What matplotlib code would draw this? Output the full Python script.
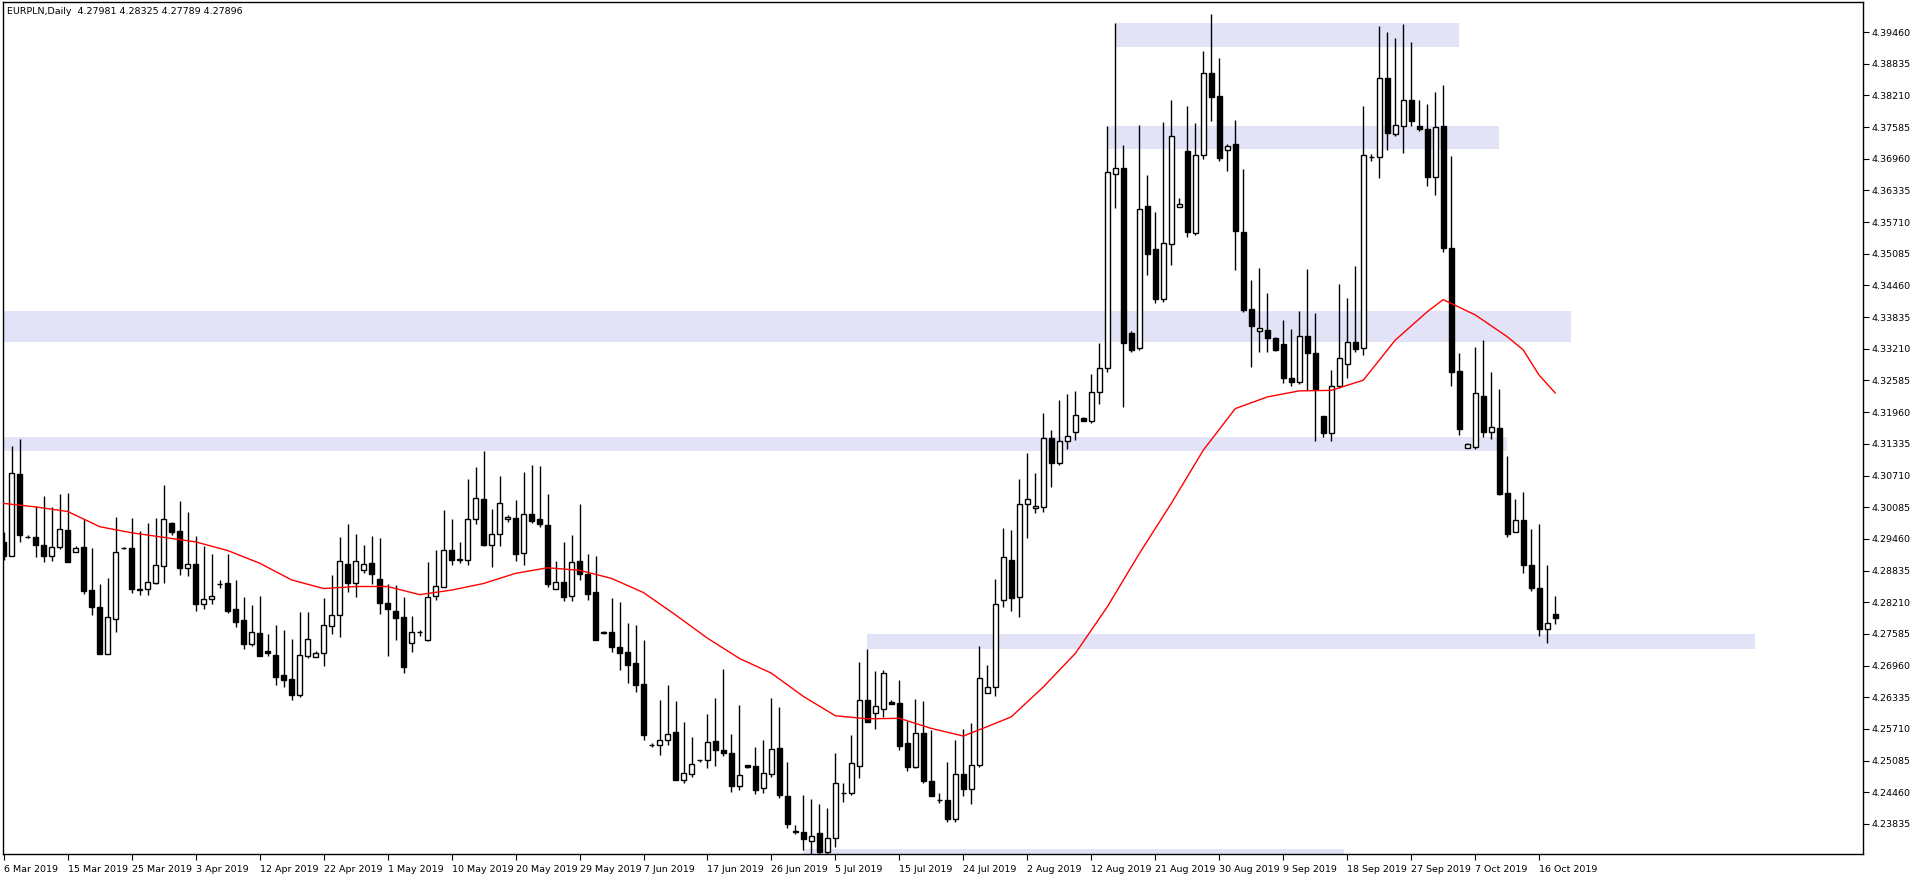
import numpy as np
import matplotlib
matplotlib.use("Agg")
import matplotlib.pyplot as plt

# ---------------------------------------------------------------
# EURPLN daily candles
# ---------------------------------------------------------------
opens = [4.2940, 4.2913, 4.3074, 4.2950, 4.2949, 4.2933, 4.2913, 4.2929, 4.2964, 4.2921,
         4.2930, 4.2845, 4.2811, 4.2718, 4.2787, 4.2928, 4.2928, 4.2848, 4.2848, 4.2859,
         4.2893, 4.2977, 4.2961, 4.2889, 4.2896, 4.2817, 4.2827, 4.2857, 4.2858, 4.2807,
         4.2785, 4.2738, 4.2761, 4.2725, 4.2716, 4.2677, 4.2669, 4.2638, 4.2715, 4.2713,
         4.2720, 4.2775, 4.2795, 4.2896, 4.2858, 4.2884, 4.2898, 4.2867, 4.2819, 4.2804,
         4.2792, 4.2740, 4.2763, 4.2746, 4.2834, 4.2852, 4.2924, 4.2905, 4.2905, 4.2986,
         4.3024, 4.2933, 4.2955, 4.2986, 4.2988, 4.2919, 4.2996, 4.2985, 4.2973, 4.2848,
         4.2860, 4.2834, 4.2902, 4.2877, 4.2842, 4.2763, 4.2762, 4.2732, 4.2723, 4.2701,
         4.2659, 4.2540, 4.2540, 4.2550, 4.2565, 4.2471, 4.2483, 4.2509, 4.2509, 4.2547,
         4.2529, 4.2523, 4.2458, 4.2499, 4.2497, 4.2454, 4.2483, 4.2533, 4.2439, 4.2369,
         4.2367, 4.2349, 4.2365, 4.2329, 4.2355, 4.2444, 4.2444, 4.2497, 4.2628, 4.2602,
         4.2610, 4.2625, 4.2623, 4.2543, 4.2496, 4.2564, 4.2469, 4.2431, 4.2430, 4.2393,
         4.2483, 4.2453, 4.2500, 4.2641, 4.2654, 4.2825, 4.2905, 4.2832, 4.3014, 4.3006,
         4.3009, 4.3146, 4.3096, 4.3140, 4.3156, 4.3184, 4.3178, 4.3235, 4.3283, 4.3665,
         4.3677, 4.3352, 4.3323, 4.3602, 4.3518, 4.3419, 4.3528, 4.3601, 4.3712, 4.3550,
         4.3704, 4.3866, 4.3819, 4.3714, 4.3725, 4.3551, 4.3399, 4.3356, 4.3359, 4.3342,
         4.3330, 4.3264, 4.3256, 4.3346, 4.3312, 4.3188, 4.3155, 4.3248, 4.3292, 4.3335,
         4.3323, 4.3700, 4.3699, 4.3855, 4.3744, 4.3761, 4.3812, 4.3760, 4.3754, 4.3660,
         4.3760, 4.3519, 4.3277, 4.3126, 4.3127, 4.3227, 4.3157, 4.3164, 4.3036, 4.2959,
         4.2984, 4.2894, 4.2850, 4.2768, 4.27981]
highs = [4.2960, 4.3129, 4.3143, 4.2953, 4.3011, 4.3031, 4.3008, 4.3035, 4.3036, 4.2932,
         4.2985, 4.2928, 4.2857, 4.2869, 4.2990, 4.2929, 4.2987, 4.2961, 4.2977, 4.2987,
         4.3052, 4.2979, 4.3021, 4.2999, 4.2952, 4.2932, 4.2917, 4.2865, 4.2916, 4.2865,
         4.2831, 4.2815, 4.2833, 4.2758, 4.2776, 4.2766, 4.2748, 4.2802, 4.2802, 4.2724,
         4.2829, 4.2874, 4.2949, 4.2975, 4.2955, 4.2934, 4.2952, 4.2948, 4.2856, 4.2855,
         4.2832, 4.2794, 4.2766, 4.2900, 4.2924, 4.3003, 4.2985, 4.2940, 4.3064, 4.3088,
         4.3119, 4.3005, 4.3070, 4.2993, 4.3023, 4.3078, 4.3092, 4.3090, 4.3035, 4.2902,
         4.2939, 4.2953, 4.3015, 4.2917, 4.2912, 4.2764, 4.2829, 4.2821, 4.2780, 4.2776,
         4.2746, 4.2544, 4.2628, 4.2658, 4.2626, 4.2584, 4.2555, 4.2510, 4.2600, 4.2632,
         4.2689, 4.2561, 4.2618, 4.2499, 4.2535, 4.2549, 4.2632, 4.2614, 4.2505, 4.2381,
         4.2440, 4.2432, 4.2423, 4.2415, 4.2523, 4.2465, 4.2559, 4.2704, 4.2729, 4.2685,
         4.2687, 4.2628, 4.2668, 4.2587, 4.2631, 4.2626, 4.2569, 4.2444, 4.2506, 4.2550,
         4.2571, 4.2582, 4.2735, 4.2697, 4.2866, 4.2968, 4.2963, 4.3065, 4.3115, 4.3075,
         4.3194, 4.3160, 4.3220, 4.3231, 4.3238, 4.3187, 4.3271, 4.3333, 4.3760, 4.3964,
         4.3723, 4.3356, 4.3762, 4.3664, 4.3591, 4.3768, 4.3812, 4.3618, 4.3800, 4.3766,
         4.3908, 4.3982, 4.3894, 4.3725, 4.3772, 4.3676, 4.3456, 4.3480, 4.3431, 4.3345,
         4.3377, 4.3360, 4.3395, 4.3478, 4.3392, 4.3188, 4.3279, 4.3449, 4.3421, 4.3484,
         4.3800, 4.3706, 4.3957, 4.3946, 4.3934, 4.3962, 4.3926, 4.3812, 4.3803, 4.3827,
         4.3841, 4.3701, 4.3312, 4.3136, 4.3325, 4.3338, 4.3275, 4.3241, 4.3109, 4.3024,
         4.3038, 4.2965, 4.2976, 4.2894, 4.28325]
lows = [4.2905, 4.2913, 4.2940, 4.2947, 4.2911, 4.2901, 4.2903, 4.2927, 4.2901, 4.2921,
        4.2838, 4.2796, 4.2718, 4.2718, 4.2763, 4.2927, 4.2840, 4.2836, 4.2836, 4.2857,
        4.2859, 4.2954, 4.2875, 4.2873, 4.2804, 4.2808, 4.2818, 4.2849, 4.2800, 4.2773,
        4.2729, 4.2735, 4.2715, 4.2715, 4.2657, 4.2654, 4.2629, 4.2634, 4.2711, 4.2713,
        4.2696, 4.2758, 4.2753, 4.2842, 4.2832, 4.2878, 4.2856, 4.2797, 4.2715, 4.2746,
        4.2682, 4.2723, 4.2755, 4.2745, 4.2825, 4.2852, 4.2895, 4.2899, 4.2894, 4.2975,
        4.2931, 4.2890, 4.2931, 4.2979, 4.2903, 4.2895, 4.2978, 4.2970, 4.2852, 4.2848,
        4.2824, 4.2824, 4.2865, 4.2826, 4.2747, 4.2759, 4.2723, 4.2688, 4.2661, 4.2644,
        4.2549, 4.2536, 4.2519, 4.2539, 4.2471, 4.2465, 4.2477, 4.2506, 4.2494, 4.2498,
        4.2517, 4.2447, 4.2451, 4.2494, 4.2443, 4.2445, 4.2477, 4.2435, 4.2375, 4.2363,
        4.2333, 4.2325, 4.2320, 4.2323, 4.2339, 4.2427, 4.2441, 4.2475, 4.2585, 4.2571,
        4.2595, 4.2621, 4.2529, 4.2489, 4.2493, 4.2465, 4.2439, 4.2424, 4.2388, 4.2388,
        4.2439, 4.2423, 4.2496, 4.2641, 4.2636, 4.2811, 4.2804, 4.2791, 4.2948, 4.2997,
        4.2999, 4.3049, 4.3092, 4.3124, 4.3141, 4.3178, 4.3175, 4.3213, 4.3275, 4.3599,
        4.3206, 4.3315, 4.3318, 4.3466, 4.3412, 4.3414, 4.3486, 4.3601, 4.3542, 4.3546,
        4.3696, 4.3771, 4.3692, 4.3672, 4.3477, 4.3394, 4.3285, 4.3315, 4.3315, 4.3316,
        4.3254, 4.3248, 4.3252, 4.3239, 4.3139, 4.3147, 4.3139, 4.3243, 4.3264, 4.3315,
        4.3308, 4.3691, 4.3658, 4.3713, 4.3741, 4.3708, 4.3760, 4.3751, 4.3643, 4.3625,
        4.3511, 4.3247, 4.3150, 4.3126, 4.3123, 4.3147, 4.3144, 4.3032, 4.2950, 4.2959,
        4.2879, 4.2843, 4.2755, 4.2741, 4.27789]
closes = [4.2913, 4.3075, 4.2954, 4.2949, 4.2933, 4.2913, 4.2929, 4.2965, 4.2901, 4.2928,
          4.2844, 4.2812, 4.2719, 4.2791, 4.2921, 4.2928, 4.2848, 4.2846, 4.2860, 4.2894,
          4.2986, 4.2960, 4.2889, 4.2896, 4.2817, 4.2827, 4.2834, 4.2857, 4.2804, 4.2782,
          4.2738, 4.2763, 4.2715, 4.2720, 4.2674, 4.2668, 4.2638, 4.2716, 4.2748, 4.2720,
          4.2777, 4.2795, 4.2902, 4.2859, 4.2902, 4.2896, 4.2876, 4.2820, 4.2808, 4.2790,
          4.2694, 4.2763, 4.2762, 4.2831, 4.2854, 4.2924, 4.2905, 4.2906, 4.2986, 4.3026,
          4.2933, 4.2955, 4.3016, 4.2990, 4.2917, 4.2996, 4.2981, 4.2975, 4.2856, 4.2860,
          4.2832, 4.2900, 4.2876, 4.2838, 4.2747, 4.2761, 4.2733, 4.2721, 4.2698, 4.2658,
          4.2559, 4.2540, 4.2549, 4.2562, 4.2471, 4.2485, 4.2501, 4.2509, 4.2546, 4.2530,
          4.2523, 4.2459, 4.2481, 4.2496, 4.2451, 4.2485, 4.2531, 4.2440, 4.2383, 4.2368,
          4.2354, 4.2360, 4.2329, 4.2355, 4.2464, 4.2444, 4.2503, 4.2628, 4.2585, 4.2617,
          4.2681, 4.2621, 4.2538, 4.2496, 4.2564, 4.2468, 4.2439, 4.2431, 4.2393, 4.2483,
          4.2453, 4.2499, 4.2672, 4.2654, 4.2818, 4.2911, 4.2830, 4.3014, 4.3024, 4.3010,
          4.3146, 4.3096, 4.3140, 4.3148, 4.3190, 4.3178, 4.3235, 4.3284, 4.3669, 4.3677,
          4.3333, 4.3318, 4.3596, 4.3508, 4.3419, 4.3529, 4.3740, 4.3607, 4.3552, 4.3704,
          4.3866, 4.3818, 4.3698, 4.3722, 4.3554, 4.3397, 4.3366, 4.3362, 4.3343, 4.3318,
          4.3264, 4.3256, 4.3346, 4.3312, 4.3241, 4.3155, 4.3248, 4.3302, 4.3335, 4.3321,
          4.3703, 4.3700, 4.3855, 4.3747, 4.3762, 4.3812, 4.3771, 4.3754, 4.3660, 4.3758,
          4.3519, 4.3275, 4.3163, 4.3133, 4.3233, 4.3157, 4.3166, 4.3034, 4.2955, 4.2984,
          4.2895, 4.2850, 4.2769, 4.2780, 4.27896]

# moving average (red line), sampled off the chart at bar indices
ma_idx = [0, 4, 8, 12, 16, 20, 24, 28, 32, 36, 40, 44, 48, 52, 56, 60, 64, 68, 72, 76,
          80, 84, 88, 92, 96, 100, 104, 108, 112, 116, 120, 124, 126, 130, 134, 138,
          142, 146, 150, 154, 158, 162, 166, 170, 174, 178, 180, 184, 188, 190, 192, 194]
ma_val = [4.3016, 4.3009, 4.3000, 4.2970, 4.2958, 4.2949, 4.2940, 4.2923, 4.2898, 4.2865,
          4.2848, 4.2852, 4.2852, 4.2836, 4.2845, 4.2858, 4.2878, 4.2889, 4.2884, 4.2868,
          4.2840, 4.2796, 4.2750, 4.2710, 4.2681, 4.2635, 4.2597, 4.2591, 4.2592, 4.2572,
          4.2557, 4.2582, 4.2595, 4.2654, 4.2720, 4.2812, 4.2917, 4.3016, 4.3121, 4.3203,
          4.3226, 4.3238, 4.3239, 4.3259, 4.3338, 4.3394, 4.3418, 4.3388, 4.3345, 4.3319,
          4.3269, 4.3234]

# support / resistance zones: price range and bar span
zone_lo = [4.39164, 4.37152, 4.33342, 4.31193, 4.27287, 4.23124]
zone_hi = [4.39637, 4.37605, 4.33955, 4.31469, 4.27583, 4.23342]
zone_start = [139, 138, -1, -1, 108, 100]
zone_end = [182, 187, 196, 188, 219, 167.6]

date_labels = ["6 Mar 2019", "15 Mar 2019", "25 Mar 2019", "3 Apr 2019", "12 Apr 2019",
               "22 Apr 2019", "1 May 2019", "10 May 2019", "20 May 2019", "29 May 2019",
               "7 Jun 2019", "17 Jun 2019", "26 Jun 2019", "5 Jul 2019", "15 Jul 2019",
               "24 Jul 2019", "2 Aug 2019", "12 Aug 2019", "21 Aug 2019", "30 Aug 2019",
               "9 Sep 2019", "18 Sep 2019", "27 Sep 2019", "7 Oct 2019", "16 Oct 2019"]
label_step = 8

y_first_tick = 4.23835
y_tick_step = 0.00625
n_yticks = 26

# ---------------------------------------------------------------
W, H = 1916, 888
fig = plt.figure(figsize=(W / 100, H / 100), dpi=100)
fig.patch.set_facecolor("white")
ax = fig.add_axes([3 / W, 1 - 854 / H, (1863 - 3) / W, (854 - 2) / H])

o = np.array(opens)
h = np.array(highs)
l = np.array(lows)
c = np.array(closes)
x = np.arange(len(o))

# zones
for lo, hi, s, e in zip(zone_lo, zone_hi, zone_start, zone_end):
    ax.fill_between([s, e], lo, hi, color="#e3e3f8", lw=0, zorder=1)

# wicks
ax.vlines(x, l, h, color="black", lw=1, zorder=2)

# bodies
up = c >= o
bottom = np.minimum(o, c)
height = np.abs(c - o)
ax.bar(x[up], height[up], bottom=bottom[up], width=0.6, facecolor="white",
       edgecolor="black", lw=1, zorder=3)
ax.bar(x[~up], height[~up], bottom=bottom[~up], width=0.6, facecolor="black",
       edgecolor="black", lw=1, zorder=3)

# moving average
ax.plot(ma_idx, ma_val, color="red", lw=1, zorder=4)

ax.set_xlim(-0.1, 232.5)
ax.set_ylim(4.23243, 4.40052)

fs = 6.8
yt = y_first_tick + y_tick_step * np.arange(n_yticks)
ax.yaxis.tick_right()
ax.set_yticks(yt)
ax.set_yticklabels([f"{v:.5f}" for v in yt], fontsize=fs)
ax.tick_params(axis="y", direction="out", length=4, pad=2)

xt = np.arange(len(date_labels)) * label_step
ax.set_xticks(xt)
ax.set_xticklabels(date_labels, fontsize=fs)
for t in ax.get_xticklabels():
    t.set_ha("left")
ax.tick_params(axis="x", direction="out", length=4, pad=4)

for sp in ax.spines.values():
    sp.set_linewidth(1)
    sp.set_color("black")

ax.text(0.002, 0.994, "EURPLN,Daily  4.27981 4.28325 4.27789 4.27896",
        transform=ax.transAxes, fontsize=fs, va="top", ha="left")

fig.savefig("out.png", dpi=100, facecolor="white")
